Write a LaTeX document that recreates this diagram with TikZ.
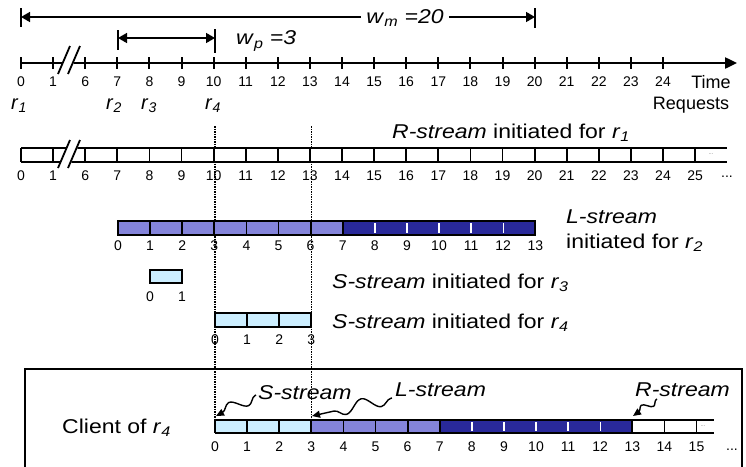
\documentclass[tikz,border=0pt]{standalone}
\usepackage{fontspec}
\setmainfont{Liberation Sans}
\newfontfamily\widefont[FakeStretch=1.15]{Liberation Sans}
\usepackage{tikz}
\usetikzlibrary{arrows.meta,positioning,calc,decorations.pathmorphing}
\usepackage{xcolor}
\definecolor{lightpurple}{HTML}{8484DA}
\definecolor{darkpurple}{HTML}{29299A}
\definecolor{paleblue}{HTML}{CCEEFF}
\definecolor{dotgray}{HTML}{808080}

\newcommand\reqr[1]{\textit{r}\textsubscript{\textit{#1}}}
\newcommand\breakmark[2]{% x of lower end, y of middle
  \fill[white] (#1,#2+13)--(#1+12,#2-15)--(#1+23,#2-15)--(#1+11,#2+13)--cycle;
  \draw[line width=1.8pt] (#1,#2+13)--(#1+12,#2-15) (#1+10,#2+13)--(#1+22,#2-15);}

\tikzset{
  num/.style={font=\fontsize{14}{16}\selectfont,inner sep=0pt},
  axlbl/.style={font=\fontsize{18}{20}\selectfont,inner sep=0pt},
  plainlbl/.style={font=\fontsize{20}{24}\selectfont,inner sep=0pt},
  lbl/.style={font=\widefont\fontsize{20}{25}\selectfont,inner sep=0pt,anchor=west},
  cellline/.style={line width=1.8pt},
  thickbar/.style={line width=2.4pt},
  dimline/.style={line width=1.5pt},
  wavy/.style args={#1/#2}{line width=1.4pt,-{Triangle[length=8pt,width=7pt]},decorate,
    decoration={snake,amplitude=#1,segment length=#2,pre length=1pt,post length=6pt}},
}

\begin{document}
\begin{tikzpicture}[x=1pt,y=-1pt]
  \useasboundingbox (0,0) rectangle (746,466);
  \clip (0,0) rectangle (746,466);

  % w_m and w_p
  \coordinate (wmL) at (21,17);
  \coordinate (wmR) at (535,17);
  \node[lbl,anchor=center,inner xsep=5pt] (wm) at (405,18) {\textit{w}\textsubscript{\textit{m}} \textit{=20}};
  \draw[dimline,-{Triangle[length=9pt,width=10pt]}] (wm.west|-wmL) -- (wmL);
  \draw[dimline,-{Triangle[length=9pt,width=10pt]}] (wm.east|-wmR) -- (wmR);
  \draw[thickbar] (21,8) -- (21,27) (535,8) -- (535,28);
  \coordinate (wpL) at (118,38);
  \coordinate (wpR) at (215,38);
  \draw[dimline,{Triangle[length=9pt,width=10pt]}-{Triangle[length=9pt,width=10pt]}] (wpL) -- (wpR);
  \draw[thickbar] (118,30) -- (118,50) (215,29) -- (215,53);
  \node[lbl] (wp) at (236,41) {\textit{w}\textsubscript{\textit{p}} \textit{=3}};

  % time axis
  \draw[line width=2.4pt,-{Triangle[length=12pt,width=11pt]}] (21,63) -- (737,63);
  \foreach \n [count=\k from 0] in {0,1,6,7,...,24}{
    \pgfmathsetmacro\xx{21+\k*32.1}
    \draw[line width=2pt] (\xx,57) -- (\xx,69);
    \node[num] (t\n) at (\xx,82) {\n};
  }
  \breakmark{58}{61}
  \node[axlbl] (time) at (711,82) {Time};
  \node[axlbl] (req) at (691,105) {Requests};
  \node[plainlbl] (r1) at (19,106) {\reqr{1}};
  \node[plainlbl] (r2) at (114,106) {\reqr{2}};
  \node[plainlbl] (r3) at (149,106) {\reqr{3}};
  \node[plainlbl] (r4) at (213,106) {\reqr{4}};

  % dotted guides
  \draw[densely dotted,line width=1.5pt] (215,126) -- (215,420);
  \draw[densely dotted,line width=1.5pt] (311.3,126) -- (311.3,420);

  % R-stream for r1
  \node[lbl] (rlbl) at (392,133) {\textit{R-stream} initiated for \reqr{1}};
  \fill[white] (21,148) rectangle (727,162);
  \draw[cellline] (21,148) -- (727,148) (21,162) -- (727,162);
  \foreach \n [count=\k from 0] in {0,1,6,7,...,25}{
    \pgfmathsetmacro\xx{21+\k*32.1}
    \draw[cellline] (\xx,148) -- (\xx,162);
    \node[num] (rs\n) at (\xx,176) {\n};
  }
  \breakmark{58}{155}
  \node[font=\fontsize{6}{6}\selectfont,text=dotgray] (rdots) at (711,154) {...};
  \node[num] (rend) at (727,177) {...};

  % L-stream for r2
  \fill[lightpurple] (118,221) rectangle (342.7,235);
  \fill[darkpurple] (342.7,221) rectangle (535.3,235);
  \foreach \i in {1,...,7} \draw[cellline] (118+\i*32.1,221) -- (118+\i*32.1,235);
  \foreach \i in {8,...,12} \draw[white,line width=1.4pt] (118+\i*32.1,223) -- (118+\i*32.1,233);
  \draw[cellline] (118,221) rectangle (535.3,235);
  \foreach \i in {0,...,13} \node[num] (ls\i) at (118+\i*32.1,246) {\i};
  \node[lbl,align=left] (llbl) at (566,231) {\textit{L-stream}\\initiated for \reqr{2}};

  % S-stream for r3
  \filldraw[fill=paleblue,cellline] (150,270) rectangle (182.1,283);
  \node[num] (sa0) at (150,297) {0};
  \node[num] (sa1) at (182.1,297) {1};
  \node[lbl] (s3lbl) at (332,283) {\textit{S-stream} initiated for \reqr{3}};

  % S-stream for r4
  \filldraw[fill=paleblue,cellline] (215,313) rectangle (311.3,327);
  \foreach \i in {1,2} \draw[cellline] (215+\i*32.1,313) -- (215+\i*32.1,327);
  \foreach \i in {0,...,3} \node[num] (sb\i) at (215+\i*32.1,340) {\i};
  \node[lbl] (s4lbl) at (332,323) {\textit{S-stream} initiated for \reqr{4}};

  % client of r4
  \draw[line width=1.6pt] (25,369) rectangle (742,500);
  \node[lbl] (client) at (62,428) {Client of \reqr{4}};
  \fill[paleblue] (215,420) rectangle (311.3,433);
  \fill[lightpurple] (311.3,420) rectangle (439.4,433);
  \fill[darkpurple] (439.4,420) rectangle (632,433);
  \fill[white] (632,420) rectangle (714,433);
  \draw[cellline] (215,420) -- (714,420) (215,433) -- (714,433);
  \foreach \i in {0,...,7,13,14,15} \draw[cellline] (215+\i*32.1,420) -- (215+\i*32.1,433);
  \foreach \i in {8,...,12} \draw[white,line width=1.4pt] (215+\i*32.1,422) -- (215+\i*32.1,431);
  \foreach \i in {0,...,15} \node[num] (cl\i) at (215+\i*32.1,447) {\i};
  \node[font=\fontsize{6}{6}\selectfont,text=dotgray] (cdots) at (703,426) {...};
  \node[num] (cend) at (732,450) {...};

  % stream pointers
  \node[lbl] (cs) at (258,393) {\textit{S-stream}};
  \node[lbl] (cl) at (395,390) {\textit{L-stream}};
  \node[lbl] (cr) at (635,390) {\textit{R-stream}};
  \coordinate (cs0) at (216,416);
  \coordinate (cs3) at (312,416);
  \coordinate (cs13) at (633,416);
  \draw[wavy=6pt/33pt] (256,395) -- (cs0);
  \draw[wavy=6pt/36pt] (392,398) -- (cs3);
  \draw[wavy=4pt/19pt] (657,399) -- (cs13);
\end{tikzpicture}
\end{document}
